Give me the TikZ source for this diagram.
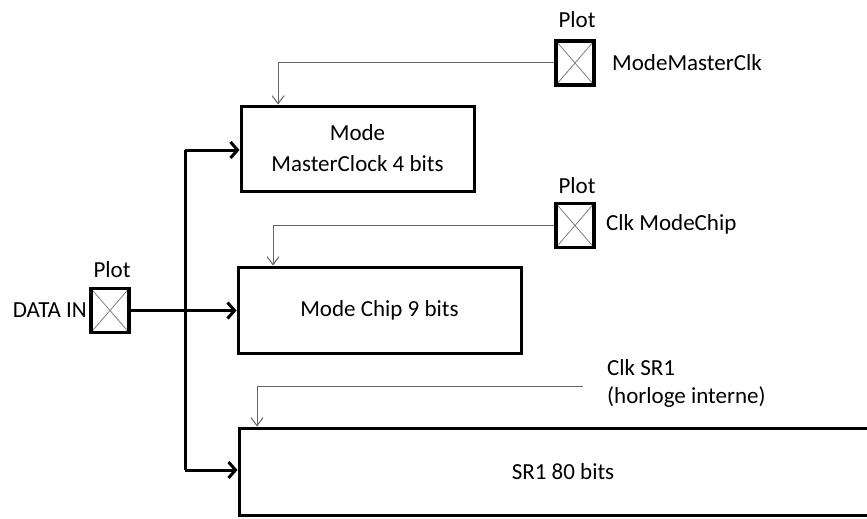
\documentclass[tikz,border=0pt]{standalone}
\usepackage{fontspec}
\setmainfont{Carlito}
\usetikzlibrary{arrows.meta}
\begin{document}
\begin{tikzpicture}[x=1pt,y=-1pt,
  txt/.style={font=\fontsize{23}{28}\selectfont, inner sep=0pt, align=center},
  blk/.style={draw, line width=3pt, inner sep=0pt, font=\fontsize{23}{31}\selectfont, align=center},
  pad/.style={draw, line width=3.5pt, minimum width=38pt, minimum height=44pt, inner sep=0pt,
    path picture={\draw[gray, line width=0.8pt] (path picture bounding box.south west) -- (path picture bounding box.north east)
      (path picture bounding box.north west) -- (path picture bounding box.south east);}},
  bus/.style={line width=3pt},
  busarrow/.style={bus, -{Straight Barb[length=7pt,width=16pt,line width=3pt]}},
  clk/.style={draw=black!60, line width=1pt, -{Straight Barb[length=8pt,width=12pt,line width=1pt]}}]
\useasboundingbox (0,0) rectangle (867,519);
% blocks
\node[blk, minimum width=233pt, minimum height=85pt] (mc) at (357.5,148.5) {Mode\\MasterClock 4 bits};
\node[blk, minimum width=283pt, minimum height=86pt] (mch) at (379.5,310) {Mode Chip 9 bits};
\node[blk, minimum width=648pt, minimum height=87pt] (sr) at (563,471.5) {SR1 80 bits};
% pads
\node[pad] (p1) at (575,63) {};
\node[pad] (p2) at (575,225.5) {};
\node[pad] (p3) at (110,310.5) {};
\node[txt, anchor=south] (p1l) at (577,28) {Plot};
\node[txt, anchor=south] (p2l) at (577,194) {Plot};
\node[txt, anchor=south] (p3l) at (112,278) {Plot};
\node[txt, anchor=west] (p1n) at (612,63) {ModeMasterClk};
\node[txt, anchor=west] (p2n) at (606,224) {Clk ModeChip};
\node[txt, anchor=east] (p3n) at (87,310) {DATA IN};
\node[txt, anchor=west, align=left] (srn) at (607,383.5) {Clk SR1\\(horloge interne)};
\coordinate (srclk) at (583,386);
% bus
\coordinate (j) at (185,310.5);
\draw[busarrow] (p3.east) -- (mch.west |- p3.east);
\draw[bus] (185,150) -- (185,470);
\draw[busarrow] (185,150) -- (mc.west |- 0,150);
\draw[busarrow] (185,470) -- (sr.west |- 0,470);
% clocks
\draw[clk] (p1.west) -| (mc.north -| 278,0);
\draw[clk] (p2.west) -| (mch.north -| 273,0);
\draw[clk] (srclk) -| (sr.north -| 257,0);
\end{tikzpicture}
\end{document}
